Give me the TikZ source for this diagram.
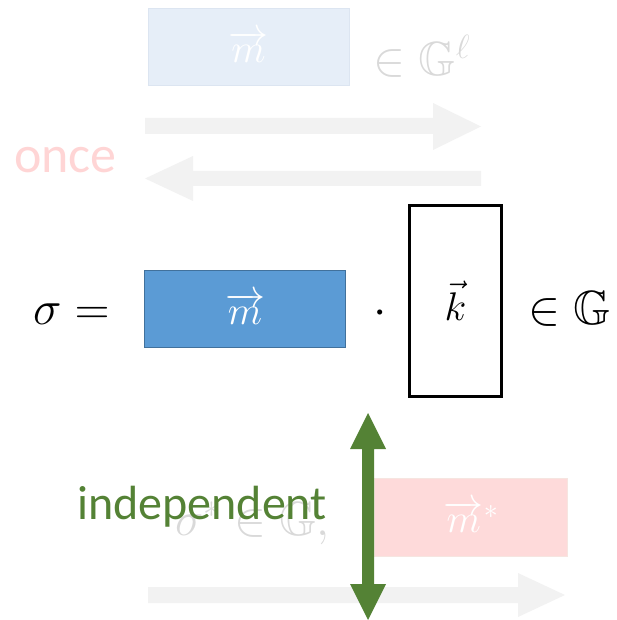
\RequirePackage{fix-cm}
\documentclass[tikz,border=0pt]{standalone}
\usepackage{amsmath, amssymb}
\usepackage{fontspec}
\newfontfamily\calibri{Carlito}
\usetikzlibrary{positioning}
\definecolor{mBlue}{HTML}{5B9BD5}
\definecolor{mBlueLine}{HTML}{41719C}
\definecolor{mPaleBlue}{HTML}{E6EEF8}
\definecolor{mPaleBlueLine}{HTML}{DCE5F1}
\definecolor{mPink}{HTML}{FEDADA}
\definecolor{mPinkLine}{HTML}{F6E5E0}
\definecolor{mPinkText}{HTML}{FFD5D5}
\definecolor{mGreen}{HTML}{548235}
\definecolor{mFade}{HTML}{F2F2F2}
\definecolor{mGrayText}{HTML}{D9D9D9}

\begin{document}
\begin{tikzpicture}[x=1pt, y=-1pt,
    vecbox/.style={inner sep=0pt, text=white, font=\fontsize{40}{48}\selectfont},
    bigmath/.style={inner sep=0pt, anchor=base west, font=\fontsize{48}{58}\selectfont},
    word/.style={inner sep=0pt, anchor=base west, font=\calibri\fontsize{48}{58}\selectfont}]
  \useasboundingbox (0,0) rectangle (617,620);

  % faded first round
  \node[vecbox, fill=mPaleBlue, draw=mPaleBlueLine, minimum width=201pt, minimum height=77pt] (mtop) at (248.5,46.5) {$\overrightarrow{m}$};
  \node[bigmath, text=mGrayText] (gtop) at (373,76) {$\in\mathbb{G}^{\ell}$};
  \fill[mFade] (145,118) -- (433,118) -- (433,103) -- (481,126.5) -- (433,150) -- (433,134) -- (145,134) -- cycle;
  \fill[mFade] (481,171) -- (193,171) -- (193,156) -- (145,178.5) -- (193,201) -- (193,186) -- (481,186) -- cycle;
  \node[word, text=mPinkText, font=\calibri\fontsize{52}{62}\selectfont] (once) at (14,173) {once};

  % signature
  \node[bigmath] (sigma) at (33,324) {$\sigma =$};
  \node[vecbox, fill=mBlue, draw=mBlueLine, line width=1.5pt, minimum width=201pt, minimum height=77pt] (m) at (245,309) {$\overrightarrow{m}$};
  \node[bigmath, anchor=base] (dot) at (380,324) {$\cdot$};
  \node[vecbox, text=black, draw=black, line width=3pt, minimum width=92pt, minimum height=191pt] (k) at (455.5,301) {$\vec{k}$};
  \node[bigmath] (gmain) at (528,324) {$\in\mathbb{G}$};

  % faded second round
  \fill[mFade] (148,587) -- (518,587) -- (518,573) -- (565,595) -- (518,617) -- (518,603) -- (148,603) -- cycle;
  \node[bigmath, text=mGrayText] (sstar) at (175,535) {$\sigma^{*}\in\mathbb{G},$};
  \node[vecbox, fill=mPink, draw=mPinkLine, minimum width=193pt, minimum height=78pt] (mstar) at (471,517) {$\overrightarrow{m}^{*}$};
  \node[word, text=mGreen] (indep) at (77,519) {independent};
  \fill[mGreen] (368,413) -- (386,449) -- (374,449) -- (374,584) -- (386,584) -- (368,620) -- (350,584) -- (362,584) -- (362,449) -- (350,449) -- cycle;
\end{tikzpicture}
\end{document}
